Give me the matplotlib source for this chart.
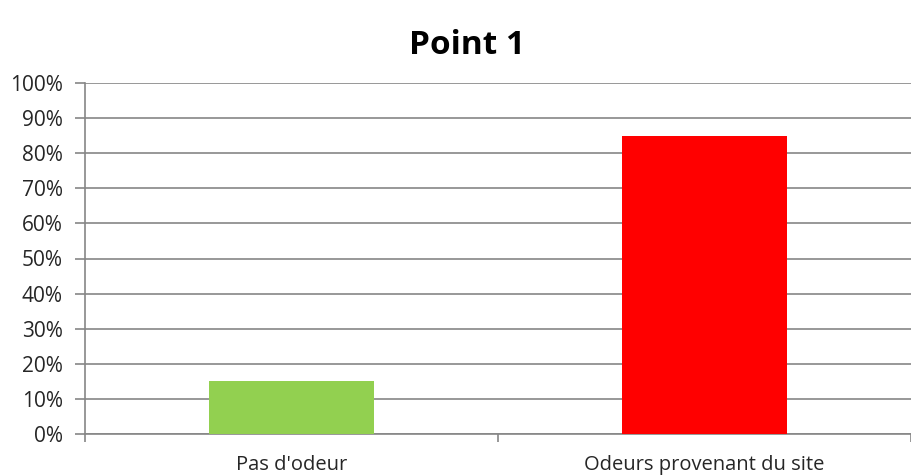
import matplotlib
matplotlib.use("Agg")
import matplotlib.pyplot as plt
from matplotlib.ticker import MultipleLocator, FuncFormatter, FixedLocator

categories = ["Pas d'odeur", "Odeurs provenant du site"]
values = [15, 85]
colors = ["#92D050", "#FF0000"]
title = "Point 1"

plt.rcParams['font.family'] = ['Open Sans', 'DejaVu Sans']

fig = plt.figure(figsize=(9.11, 4.76), dpi=100)
ax = fig.add_axes([85/911, 1-434/476, 1-85/911, (434-83)/476])

x = list(range(len(categories)))
ax.bar(x, values, width=0.4, color=colors, zorder=3)

ax.set_xlim(-0.5, len(categories) - 0.5)
ax.set_ylim(0, 100)
ax.yaxis.set_major_locator(MultipleLocator(10))
ax.yaxis.set_major_formatter(FuncFormatter(lambda v, p: f"{int(v)}%"))
ax.grid(axis='y', color='#868686', linewidth=1.2, zorder=0)

grey = '#868686'
for s in ['top', 'right']:
    ax.spines[s].set_visible(False)
ax.spines['left'].set_color(grey)
ax.spines['bottom'].set_color(grey)
ax.spines['left'].set_linewidth(1.2)
ax.spines['bottom'].set_linewidth(1.2)

ax.xaxis.set_major_locator(FixedLocator([-0.5, 0.5, 1.5]))
ax.xaxis.set_major_formatter(FuncFormatter(lambda v, p: ""))
ax.xaxis.set_minor_locator(FixedLocator(x))
ax.set_xticklabels(categories, minor=True)
ax.tick_params(axis='x', which='major', length=6, color=grey, width=1.2)
ax.tick_params(axis='x', which='minor', length=0, pad=15, labelsize=14.5, labelcolor='#262626')
ax.tick_params(axis='y', length=7, color=grey, width=1.2, labelsize=15, labelcolor='#262626', pad=9)

fig.text(0.513, 0.905, title, ha='center', va='center', fontsize=24, fontweight='bold', color='#000000')

fig.savefig("out.png", dpi=100)
